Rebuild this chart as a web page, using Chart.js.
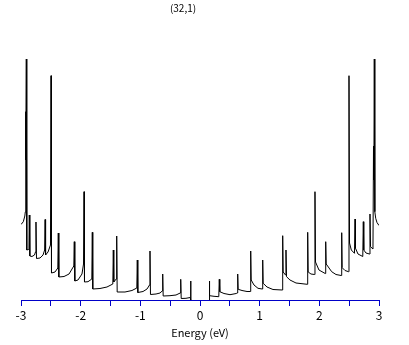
<!DOCTYPE html>
<html><head><meta charset="utf-8">
<script src="https://cdn.jsdelivr.net/npm/chart.js@4"></script>
<style>html,body{margin:0;padding:0;background:#fff}</style>
</head><body>
<canvas id="c" width="409" height="345"></canvas>
<script>
const chartTitle = '(32,1)';
const xAxisTitle = 'Energy (eV)';

// Valence side (E < 0), ascending energy
const energyNeg = [-3.000,-2.961,-2.936,-2.928,-2.923,-2.918,-2.911,-2.903,-2.874,-2.866,-2.861,-2.852,-2.816,-2.774,-2.757,-2.749,-2.740,-2.681,-2.631,-2.604,-2.596,-2.588,-2.547,-2.506,-2.497,-2.489,-2.430,-2.383,-2.375,-2.366,-2.279,-2.195,-2.115,-2.107,-2.098,-2.045,-1.978,-1.952,-1.944,-1.936,-1.877,-1.813,-1.805,-1.797,-1.676,-1.559,-1.461,-1.453,-1.445,-1.404,-1.396,-1.388,-1.257,-1.140,-1.059,-1.051,-1.042,-0.955,-0.888,-0.846,-0.838,-0.830,-0.737,-0.670,-0.634,-0.625,-0.617,-0.503,-0.402,-0.332,-0.323,-0.315,-0.235,-0.164,-0.156,-0.153,0];
const dosNeg = [0.755,0.783,0.84,0.88,1.883,1.40,2.41,0.50,0.505,0.53,0.85,0.44,0.435,0.45,0.48,0.78,0.415,0.42,0.45,0.50,0.805,0.45,0.48,0.55,2.243,0.27,0.28,0.32,0.67,0.23,0.235,0.26,0.34,0.583,0.19,0.20,0.26,0.36,1.083,0.18,0.183,0.21,0.677,0.11,0.115,0.13,0.16,0.50,0.18,0.21,0.64,0.08,0.08,0.095,0.12,0.40,0.075,0.085,0.11,0.15,0.49,0.055,0.06,0.07,0.09,0.26,0.04,0.043,0.05,0.07,0.207,0.015,0.017,0.025,0.19,0,0];

// Conduction side (E > 0), ascending energy
const energyPos = [0.153,0.156,0.164,0.235,0.315,0.323,0.332,0.402,0.503,0.607,0.623,0.632,0.640,0.704,0.788,0.841,0.850,0.858,0.905,0.972,1.042,1.051,1.059,1.123,1.223,1.378,1.386,1.394,1.433,1.441,1.450,1.508,1.609,1.797,1.805,1.813,1.860,1.919,1.927,1.936,1.994,2.098,2.107,2.115,2.207,2.279,2.366,2.375,2.383,2.430,2.489,2.497,2.506,2.536,2.589,2.598,2.606,2.648,2.728,2.737,2.745,2.782,2.841,2.849,2.858,2.899,2.908,2.914,2.921,2.930,2.945,2.966,3.000];
const dosPos = [0,0.19,0.043,0.037,0.033,0.207,0.083,0.065,0.053,0.065,0.07,0.26,0.107,0.095,0.085,0.085,0.49,0.20,0.15,0.117,0.11,0.40,0.167,0.13,0.105,0.10,0.643,0.28,0.25,0.50,0.233,0.20,0.17,0.157,0.677,0.28,0.26,0.255,1.083,0.38,0.30,0.265,0.583,0.36,0.283,0.255,0.245,0.673,0.323,0.295,0.283,2.243,0.57,0.50,0.467,0.81,0.517,0.46,0.435,0.783,0.50,0.47,0.46,0.86,0.533,0.51,1.54,1.20,2.41,0.883,0.817,0.775,0.745];

const xMin = -3, xMax = 3, xStep = 0.5;
const yMax = 2.42;

const points = energyNeg.map((e,i)=>({x:e,y:dosNeg[i]}))
  .concat(energyPos.map((e,i)=>({x:e,y:dosPos[i]})));

const AXIS_BLUE = '#0000c8';
const FONT = '"Noto Sans CJK JP", "DejaVu Sans", sans-serif';

const topTitle = {
  id:'topTitle',
  afterDraw(chart){
    const ctx = chart.ctx;
    ctx.save();
    ctx.font = '10px ' + FONT;
    ctx.fillStyle = '#000';
    ctx.textAlign = 'center';
    ctx.textBaseline = 'middle';
    ctx.fillText(chartTitle, 183, 8);
    ctx.restore();
  }
};

new Chart(document.getElementById('c'), {
  type:'line',
  data:{ datasets:[{
    data: points,
    borderColor:'#000',
    borderWidth:1,
    pointRadius:0,
    tension:0,
    fill:false,
    segment:{ borderColor: c => (c.p0.parsed.y===0 && c.p1.parsed.y===0) ? 'rgba(0,0,0,0)' : undefined }
  }]},
  options:{
    responsive:false,
    animation:false,
    devicePixelRatio:1,
    layout:{ padding:{ left:21, right:30, top:58, bottom:0 } },
    plugins:{ legend:{display:false}, tooltip:{enabled:false}, title:{display:false} },
    scales:{
      x:{
        type:'linear', min:xMin, max:xMax, z:1,
        afterFit(s){ s.height = 45; },
        grid:{ drawOnChartArea:false, drawTicks:true, tickLength:6, color:AXIS_BLUE, lineWidth:1 },
        border:{ display:true, color:AXIS_BLUE, width:1 },
        ticks:{
          stepSize:xStep, autoSkip:false, maxRotation:0, padding:2,
          color:'#000', font:{ family:FONT, size:12 },
          callback:v => Number.isInteger(v) ? String(v) : ''
        },
        title:{ display:true, text:xAxisTitle, color:'#000', font:{ family:FONT, size:11 }, padding:{top:0,bottom:6} }
      },
      y:{ display:false, min:0, max:yMax }
    }
  },
  plugins:[topTitle]
});
</script>
</body></html>
